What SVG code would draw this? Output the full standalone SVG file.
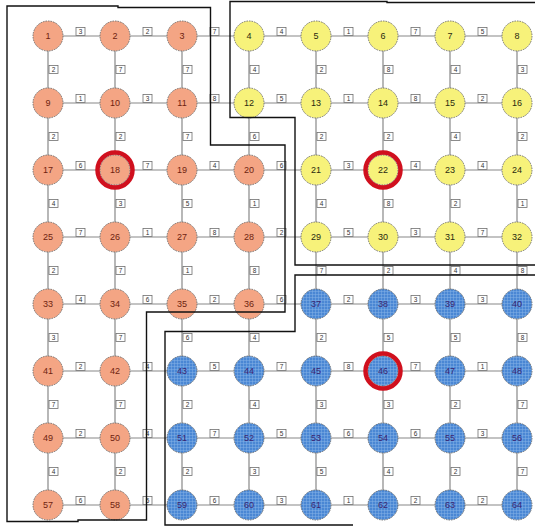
<svg xmlns="http://www.w3.org/2000/svg" width="535" height="527" viewBox="0 0 535 527">
<style>
.e{stroke:#888;stroke-width:1.2}
.b{fill:#fff;stroke:#6f6f6f;stroke-width:0.8}
.l{font-family:"Liberation Sans",Arial,sans-serif;font-size:6.5px;fill:#333;text-anchor:middle}
.n{stroke:#6a6a6a;stroke-width:0.9;stroke-dasharray:1.6 1}
.o{fill:#f4a584}
.y{fill:#f7f27a}
.u{fill:url(#grid)}
.t{font-family:"Liberation Sans",Arial,sans-serif;font-size:9px;text-anchor:middle;dominant-baseline:central}
.to{fill:#6e1f10}
.ty{fill:#2a2a10}
.tu{fill:#3a2470}
.sel{fill:none;stroke:#d0101e;stroke-width:4.5}
.r{fill:none;stroke:#111;stroke-width:1.4}
</style>
<defs>
<pattern id="grid" width="3" height="3" patternUnits="userSpaceOnUse">
<rect width="3" height="3" fill="#4a87d4"/>
<path d="M0 0.3H3M0.3 0V3" stroke="#86b3e6" stroke-width="0.6"/>
</pattern>
</defs>
<rect width="535" height="527" fill="#fff"/>
<g id="connectors">
<g id="edges">
<line class="e" x1="48" y1="36" x2="517" y2="36"/>
<line class="e" x1="48" y1="103" x2="517" y2="103"/>
<line class="e" x1="48" y1="170" x2="517" y2="170"/>
<line class="e" x1="48" y1="237" x2="517" y2="237"/>
<line class="e" x1="48" y1="304" x2="517" y2="304"/>
<line class="e" x1="48" y1="371" x2="517" y2="371"/>
<line class="e" x1="48" y1="438" x2="517" y2="438"/>
<line class="e" x1="48" y1="505" x2="517" y2="505"/>
<line class="e" x1="48" y1="36" x2="48" y2="505"/>
<line class="e" x1="115" y1="36" x2="115" y2="505"/>
<line class="e" x1="182" y1="36" x2="182" y2="505"/>
<line class="e" x1="249" y1="36" x2="249" y2="505"/>
<line class="e" x1="316" y1="36" x2="316" y2="505"/>
<line class="e" x1="383" y1="36" x2="383" y2="505"/>
<line class="e" x1="450" y1="36" x2="450" y2="505"/>
<line class="e" x1="517" y1="36" x2="517" y2="505"/>
</g>
<g id="edge-labels">
<g>
<rect class="b" x="76" y="27.5" width="9" height="8"/><text class="l" x="80.5" y="33.8">3</text>
<rect class="b" x="143" y="27.5" width="9" height="8"/><text class="l" x="147.5" y="33.8">2</text>
<rect class="b" x="210" y="27.5" width="9" height="8"/><text class="l" x="214.5" y="33.8">7</text>
<rect class="b" x="277" y="27.5" width="9" height="8"/><text class="l" x="281.5" y="33.8">4</text>
<rect class="b" x="344" y="27.5" width="9" height="8"/><text class="l" x="348.5" y="33.8">1</text>
<rect class="b" x="411" y="27.5" width="9" height="8"/><text class="l" x="415.5" y="33.8">7</text>
<rect class="b" x="478" y="27.5" width="9" height="8"/><text class="l" x="482.5" y="33.8">5</text>
</g>
<g>
<rect class="b" x="76" y="94.5" width="9" height="8"/><text class="l" x="80.5" y="100.8">1</text>
<rect class="b" x="143" y="94.5" width="9" height="8"/><text class="l" x="147.5" y="100.8">3</text>
<rect class="b" x="210" y="94.5" width="9" height="8"/><text class="l" x="214.5" y="100.8">8</text>
<rect class="b" x="277" y="94.5" width="9" height="8"/><text class="l" x="281.5" y="100.8">5</text>
<rect class="b" x="344" y="94.5" width="9" height="8"/><text class="l" x="348.5" y="100.8">1</text>
<rect class="b" x="411" y="94.5" width="9" height="8"/><text class="l" x="415.5" y="100.8">8</text>
<rect class="b" x="478" y="94.5" width="9" height="8"/><text class="l" x="482.5" y="100.8">2</text>
</g>
<g>
<rect class="b" x="76" y="161.5" width="9" height="8"/><text class="l" x="80.5" y="167.8">6</text>
<rect class="b" x="143" y="161.5" width="9" height="8"/><text class="l" x="147.5" y="167.8">7</text>
<rect class="b" x="210" y="161.5" width="9" height="8"/><text class="l" x="214.5" y="167.8">4</text>
<rect class="b" x="277" y="161.5" width="9" height="8"/><text class="l" x="281.5" y="167.8">6</text>
<rect class="b" x="344" y="161.5" width="9" height="8"/><text class="l" x="348.5" y="167.8">3</text>
<rect class="b" x="411" y="161.5" width="9" height="8"/><text class="l" x="415.5" y="167.8">4</text>
<rect class="b" x="478" y="161.5" width="9" height="8"/><text class="l" x="482.5" y="167.8">4</text>
</g>
<g>
<rect class="b" x="76" y="228.5" width="9" height="8"/><text class="l" x="80.5" y="234.8">7</text>
<rect class="b" x="143" y="228.5" width="9" height="8"/><text class="l" x="147.5" y="234.8">1</text>
<rect class="b" x="210" y="228.5" width="9" height="8"/><text class="l" x="214.5" y="234.8">8</text>
<rect class="b" x="277" y="228.5" width="9" height="8"/><text class="l" x="281.5" y="234.8">2</text>
<rect class="b" x="344" y="228.5" width="9" height="8"/><text class="l" x="348.5" y="234.8">5</text>
<rect class="b" x="411" y="228.5" width="9" height="8"/><text class="l" x="415.5" y="234.8">3</text>
<rect class="b" x="478" y="228.5" width="9" height="8"/><text class="l" x="482.5" y="234.8">7</text>
</g>
<g>
<rect class="b" x="76" y="295.5" width="9" height="8"/><text class="l" x="80.5" y="301.8">4</text>
<rect class="b" x="143" y="295.5" width="9" height="8"/><text class="l" x="147.5" y="301.8">6</text>
<rect class="b" x="210" y="295.5" width="9" height="8"/><text class="l" x="214.5" y="301.8">2</text>
<rect class="b" x="277" y="295.5" width="9" height="8"/><text class="l" x="281.5" y="301.8">6</text>
<rect class="b" x="344" y="295.5" width="9" height="8"/><text class="l" x="348.5" y="301.8">2</text>
<rect class="b" x="411" y="295.5" width="9" height="8"/><text class="l" x="415.5" y="301.8">3</text>
<rect class="b" x="478" y="295.5" width="9" height="8"/><text class="l" x="482.5" y="301.8">3</text>
</g>
<g>
<rect class="b" x="76" y="362.5" width="9" height="8"/><text class="l" x="80.5" y="368.8">2</text>
<rect class="b" x="143" y="362.5" width="9" height="8"/><text class="l" x="147.5" y="368.8">4</text>
<rect class="b" x="210" y="362.5" width="9" height="8"/><text class="l" x="214.5" y="368.8">5</text>
<rect class="b" x="277" y="362.5" width="9" height="8"/><text class="l" x="281.5" y="368.8">7</text>
<rect class="b" x="344" y="362.5" width="9" height="8"/><text class="l" x="348.5" y="368.8">8</text>
<rect class="b" x="411" y="362.5" width="9" height="8"/><text class="l" x="415.5" y="368.8">7</text>
<rect class="b" x="478" y="362.5" width="9" height="8"/><text class="l" x="482.5" y="368.8">1</text>
</g>
<g>
<rect class="b" x="76" y="429.5" width="9" height="8"/><text class="l" x="80.5" y="435.8">2</text>
<rect class="b" x="143" y="429.5" width="9" height="8"/><text class="l" x="147.5" y="435.8">4</text>
<rect class="b" x="210" y="429.5" width="9" height="8"/><text class="l" x="214.5" y="435.8">7</text>
<rect class="b" x="277" y="429.5" width="9" height="8"/><text class="l" x="281.5" y="435.8">5</text>
<rect class="b" x="344" y="429.5" width="9" height="8"/><text class="l" x="348.5" y="435.8">6</text>
<rect class="b" x="411" y="429.5" width="9" height="8"/><text class="l" x="415.5" y="435.8">6</text>
<rect class="b" x="478" y="429.5" width="9" height="8"/><text class="l" x="482.5" y="435.8">3</text>
</g>
<g>
<rect class="b" x="76" y="496.5" width="9" height="8"/><text class="l" x="80.5" y="502.8">6</text>
<rect class="b" x="143" y="496.5" width="9" height="8"/><text class="l" x="147.5" y="502.8">5</text>
<rect class="b" x="210" y="496.5" width="9" height="8"/><text class="l" x="214.5" y="502.8">6</text>
<rect class="b" x="277" y="496.5" width="9" height="8"/><text class="l" x="281.5" y="502.8">3</text>
<rect class="b" x="344" y="496.5" width="9" height="8"/><text class="l" x="348.5" y="502.8">1</text>
<rect class="b" x="411" y="496.5" width="9" height="8"/><text class="l" x="415.5" y="502.8">2</text>
<rect class="b" x="478" y="496.5" width="9" height="8"/><text class="l" x="482.5" y="502.8">2</text>
</g>
<g>
<rect class="b" x="49" y="65.5" width="9" height="8"/><text class="l" x="53.5" y="71.8">2</text>
<rect class="b" x="116" y="65.5" width="9" height="8"/><text class="l" x="120.5" y="71.8">7</text>
<rect class="b" x="183" y="65.5" width="9" height="8"/><text class="l" x="187.5" y="71.8">7</text>
<rect class="b" x="250" y="65.5" width="9" height="8"/><text class="l" x="254.5" y="71.8">4</text>
<rect class="b" x="317" y="65.5" width="9" height="8"/><text class="l" x="321.5" y="71.8">2</text>
<rect class="b" x="384" y="65.5" width="9" height="8"/><text class="l" x="388.5" y="71.8">8</text>
<rect class="b" x="451" y="65.5" width="9" height="8"/><text class="l" x="455.5" y="71.8">4</text>
<rect class="b" x="518" y="65.5" width="9" height="8"/><text class="l" x="522.5" y="71.8">3</text>
</g>
<g>
<rect class="b" x="49" y="132.5" width="9" height="8"/><text class="l" x="53.5" y="138.8">2</text>
<rect class="b" x="116" y="132.5" width="9" height="8"/><text class="l" x="120.5" y="138.8">2</text>
<rect class="b" x="183" y="132.5" width="9" height="8"/><text class="l" x="187.5" y="138.8">7</text>
<rect class="b" x="250" y="132.5" width="9" height="8"/><text class="l" x="254.5" y="138.8">6</text>
<rect class="b" x="317" y="132.5" width="9" height="8"/><text class="l" x="321.5" y="138.8">2</text>
<rect class="b" x="384" y="132.5" width="9" height="8"/><text class="l" x="388.5" y="138.8">2</text>
<rect class="b" x="451" y="132.5" width="9" height="8"/><text class="l" x="455.5" y="138.8">4</text>
<rect class="b" x="518" y="132.5" width="9" height="8"/><text class="l" x="522.5" y="138.8">2</text>
</g>
<g>
<rect class="b" x="49" y="199.5" width="9" height="8"/><text class="l" x="53.5" y="205.8">4</text>
<rect class="b" x="116" y="199.5" width="9" height="8"/><text class="l" x="120.5" y="205.8">3</text>
<rect class="b" x="183" y="199.5" width="9" height="8"/><text class="l" x="187.5" y="205.8">5</text>
<rect class="b" x="250" y="199.5" width="9" height="8"/><text class="l" x="254.5" y="205.8">1</text>
<rect class="b" x="317" y="199.5" width="9" height="8"/><text class="l" x="321.5" y="205.8">4</text>
<rect class="b" x="384" y="199.5" width="9" height="8"/><text class="l" x="388.5" y="205.8">8</text>
<rect class="b" x="451" y="199.5" width="9" height="8"/><text class="l" x="455.5" y="205.8">2</text>
<rect class="b" x="518" y="199.5" width="9" height="8"/><text class="l" x="522.5" y="205.8">1</text>
</g>
<g>
<rect class="b" x="49" y="266.5" width="9" height="8"/><text class="l" x="53.5" y="272.8">2</text>
<rect class="b" x="116" y="266.5" width="9" height="8"/><text class="l" x="120.5" y="272.8">7</text>
<rect class="b" x="183" y="266.5" width="9" height="8"/><text class="l" x="187.5" y="272.8">1</text>
<rect class="b" x="250" y="266.5" width="9" height="8"/><text class="l" x="254.5" y="272.8">8</text>
<rect class="b" x="317" y="266.5" width="9" height="8"/><text class="l" x="321.5" y="272.8">7</text>
<rect class="b" x="384" y="266.5" width="9" height="8"/><text class="l" x="388.5" y="272.8">2</text>
<rect class="b" x="451" y="266.5" width="9" height="8"/><text class="l" x="455.5" y="272.8">4</text>
<rect class="b" x="518" y="266.5" width="9" height="8"/><text class="l" x="522.5" y="272.8">8</text>
</g>
<g>
<rect class="b" x="49" y="333.5" width="9" height="8"/><text class="l" x="53.5" y="339.8">3</text>
<rect class="b" x="116" y="333.5" width="9" height="8"/><text class="l" x="120.5" y="339.8">7</text>
<rect class="b" x="183" y="333.5" width="9" height="8"/><text class="l" x="187.5" y="339.8">6</text>
<rect class="b" x="250" y="333.5" width="9" height="8"/><text class="l" x="254.5" y="339.8">4</text>
<rect class="b" x="317" y="333.5" width="9" height="8"/><text class="l" x="321.5" y="339.8">2</text>
<rect class="b" x="384" y="333.5" width="9" height="8"/><text class="l" x="388.5" y="339.8">5</text>
<rect class="b" x="451" y="333.5" width="9" height="8"/><text class="l" x="455.5" y="339.8">5</text>
<rect class="b" x="518" y="333.5" width="9" height="8"/><text class="l" x="522.5" y="339.8">8</text>
</g>
<g>
<rect class="b" x="49" y="400.5" width="9" height="8"/><text class="l" x="53.5" y="406.8">7</text>
<rect class="b" x="116" y="400.5" width="9" height="8"/><text class="l" x="120.5" y="406.8">7</text>
<rect class="b" x="183" y="400.5" width="9" height="8"/><text class="l" x="187.5" y="406.8">2</text>
<rect class="b" x="250" y="400.5" width="9" height="8"/><text class="l" x="254.5" y="406.8">4</text>
<rect class="b" x="317" y="400.5" width="9" height="8"/><text class="l" x="321.5" y="406.8">3</text>
<rect class="b" x="384" y="400.5" width="9" height="8"/><text class="l" x="388.5" y="406.8">3</text>
<rect class="b" x="451" y="400.5" width="9" height="8"/><text class="l" x="455.5" y="406.8">2</text>
<rect class="b" x="518" y="400.5" width="9" height="8"/><text class="l" x="522.5" y="406.8">7</text>
</g>
<g>
<rect class="b" x="49" y="467.5" width="9" height="8"/><text class="l" x="53.5" y="473.8">4</text>
<rect class="b" x="116" y="467.5" width="9" height="8"/><text class="l" x="120.5" y="473.8">2</text>
<rect class="b" x="183" y="467.5" width="9" height="8"/><text class="l" x="187.5" y="473.8">2</text>
<rect class="b" x="250" y="467.5" width="9" height="8"/><text class="l" x="254.5" y="473.8">3</text>
<rect class="b" x="317" y="467.5" width="9" height="8"/><text class="l" x="321.5" y="473.8">5</text>
<rect class="b" x="384" y="467.5" width="9" height="8"/><text class="l" x="388.5" y="473.8">4</text>
<rect class="b" x="451" y="467.5" width="9" height="8"/><text class="l" x="455.5" y="473.8">2</text>
<rect class="b" x="518" y="467.5" width="9" height="8"/><text class="l" x="522.5" y="473.8">7</text>
</g>
</g>
</g>
<g id="nodes">
<g id="n1"><circle class="n o" cx="48" cy="36" r="15"/><text class="t to" x="48" y="36">1</text></g>
<g id="n2"><circle class="n o" cx="115" cy="36" r="15"/><text class="t to" x="115" y="36">2</text></g>
<g id="n3"><circle class="n o" cx="182" cy="36" r="15"/><text class="t to" x="182" y="36">3</text></g>
<g id="n4"><circle class="n y" cx="249" cy="36" r="15"/><text class="t ty" x="249" y="36">4</text></g>
<g id="n5"><circle class="n y" cx="316" cy="36" r="15"/><text class="t ty" x="316" y="36">5</text></g>
<g id="n6"><circle class="n y" cx="383" cy="36" r="15"/><text class="t ty" x="383" y="36">6</text></g>
<g id="n7"><circle class="n y" cx="450" cy="36" r="15"/><text class="t ty" x="450" y="36">7</text></g>
<g id="n8"><circle class="n y" cx="517" cy="36" r="15"/><text class="t ty" x="517" y="36">8</text></g>
<g id="n9"><circle class="n o" cx="48" cy="103" r="15"/><text class="t to" x="48" y="103">9</text></g>
<g id="n10"><circle class="n o" cx="115" cy="103" r="15"/><text class="t to" x="115" y="103">10</text></g>
<g id="n11"><circle class="n o" cx="182" cy="103" r="15"/><text class="t to" x="182" y="103">11</text></g>
<g id="n12"><circle class="n y" cx="249" cy="103" r="15"/><text class="t ty" x="249" y="103">12</text></g>
<g id="n13"><circle class="n y" cx="316" cy="103" r="15"/><text class="t ty" x="316" y="103">13</text></g>
<g id="n14"><circle class="n y" cx="383" cy="103" r="15"/><text class="t ty" x="383" y="103">14</text></g>
<g id="n15"><circle class="n y" cx="450" cy="103" r="15"/><text class="t ty" x="450" y="103">15</text></g>
<g id="n16"><circle class="n y" cx="517" cy="103" r="15"/><text class="t ty" x="517" y="103">16</text></g>
<g id="n17"><circle class="n o" cx="48" cy="170" r="15"/><text class="t to" x="48" y="170">17</text></g>
<g id="n18"><circle class="n o" cx="115" cy="170" r="15"/><circle class="sel" cx="115" cy="170" r="17.5"/><text class="t to" x="115" y="170">18</text></g>
<g id="n19"><circle class="n o" cx="182" cy="170" r="15"/><text class="t to" x="182" y="170">19</text></g>
<g id="n20"><circle class="n o" cx="249" cy="170" r="15"/><text class="t to" x="249" y="170">20</text></g>
<g id="n21"><circle class="n y" cx="316" cy="170" r="15"/><text class="t ty" x="316" y="170">21</text></g>
<g id="n22"><circle class="n y" cx="383" cy="170" r="15"/><circle class="sel" cx="383" cy="170" r="17.5"/><text class="t ty" x="383" y="170">22</text></g>
<g id="n23"><circle class="n y" cx="450" cy="170" r="15"/><text class="t ty" x="450" y="170">23</text></g>
<g id="n24"><circle class="n y" cx="517" cy="170" r="15"/><text class="t ty" x="517" y="170">24</text></g>
<g id="n25"><circle class="n o" cx="48" cy="237" r="15"/><text class="t to" x="48" y="237">25</text></g>
<g id="n26"><circle class="n o" cx="115" cy="237" r="15"/><text class="t to" x="115" y="237">26</text></g>
<g id="n27"><circle class="n o" cx="182" cy="237" r="15"/><text class="t to" x="182" y="237">27</text></g>
<g id="n28"><circle class="n o" cx="249" cy="237" r="15"/><text class="t to" x="249" y="237">28</text></g>
<g id="n29"><circle class="n y" cx="316" cy="237" r="15"/><text class="t ty" x="316" y="237">29</text></g>
<g id="n30"><circle class="n y" cx="383" cy="237" r="15"/><text class="t ty" x="383" y="237">30</text></g>
<g id="n31"><circle class="n y" cx="450" cy="237" r="15"/><text class="t ty" x="450" y="237">31</text></g>
<g id="n32"><circle class="n y" cx="517" cy="237" r="15"/><text class="t ty" x="517" y="237">32</text></g>
<g id="n33"><circle class="n o" cx="48" cy="304" r="15"/><text class="t to" x="48" y="304">33</text></g>
<g id="n34"><circle class="n o" cx="115" cy="304" r="15"/><text class="t to" x="115" y="304">34</text></g>
<g id="n35"><circle class="n o" cx="182" cy="304" r="15"/><text class="t to" x="182" y="304">35</text></g>
<g id="n36"><circle class="n o" cx="249" cy="304" r="15"/><text class="t to" x="249" y="304">36</text></g>
<g id="n37"><circle class="n u" cx="316" cy="304" r="15"/><text class="t tu" x="316" y="304">37</text></g>
<g id="n38"><circle class="n u" cx="383" cy="304" r="15"/><text class="t tu" x="383" y="304">38</text></g>
<g id="n39"><circle class="n u" cx="450" cy="304" r="15"/><text class="t tu" x="450" y="304">39</text></g>
<g id="n40"><circle class="n u" cx="517" cy="304" r="15"/><text class="t tu" x="517" y="304">40</text></g>
<g id="n41"><circle class="n o" cx="48" cy="371" r="15"/><text class="t to" x="48" y="371">41</text></g>
<g id="n42"><circle class="n o" cx="115" cy="371" r="15"/><text class="t to" x="115" y="371">42</text></g>
<g id="n43"><circle class="n u" cx="182" cy="371" r="15"/><text class="t tu" x="182" y="371">43</text></g>
<g id="n44"><circle class="n u" cx="249" cy="371" r="15"/><text class="t tu" x="249" y="371">44</text></g>
<g id="n45"><circle class="n u" cx="316" cy="371" r="15"/><text class="t tu" x="316" y="371">45</text></g>
<g id="n46"><circle class="n u" cx="383" cy="371" r="15"/><circle class="sel" cx="383" cy="371" r="17.5"/><text class="t tu" x="383" y="371">46</text></g>
<g id="n47"><circle class="n u" cx="450" cy="371" r="15"/><text class="t tu" x="450" y="371">47</text></g>
<g id="n48"><circle class="n u" cx="517" cy="371" r="15"/><text class="t tu" x="517" y="371">48</text></g>
<g id="n49"><circle class="n o" cx="48" cy="438" r="15"/><text class="t to" x="48" y="438">49</text></g>
<g id="n50"><circle class="n o" cx="115" cy="438" r="15"/><text class="t to" x="115" y="438">50</text></g>
<g id="n51"><circle class="n u" cx="182" cy="438" r="15"/><text class="t tu" x="182" y="438">51</text></g>
<g id="n52"><circle class="n u" cx="249" cy="438" r="15"/><text class="t tu" x="249" y="438">52</text></g>
<g id="n53"><circle class="n u" cx="316" cy="438" r="15"/><text class="t tu" x="316" y="438">53</text></g>
<g id="n54"><circle class="n u" cx="383" cy="438" r="15"/><text class="t tu" x="383" y="438">54</text></g>
<g id="n55"><circle class="n u" cx="450" cy="438" r="15"/><text class="t tu" x="450" y="438">55</text></g>
<g id="n56"><circle class="n u" cx="517" cy="438" r="15"/><text class="t tu" x="517" y="438">56</text></g>
<g id="n57"><circle class="n o" cx="48" cy="505" r="15"/><text class="t to" x="48" y="505">57</text></g>
<g id="n58"><circle class="n o" cx="115" cy="505" r="15"/><text class="t to" x="115" y="505">58</text></g>
<g id="n59"><circle class="n u" cx="182" cy="505" r="15"/><text class="t tu" x="182" y="505">59</text></g>
<g id="n60"><circle class="n u" cx="249" cy="505" r="15"/><text class="t tu" x="249" y="505">60</text></g>
<g id="n61"><circle class="n u" cx="316" cy="505" r="15"/><text class="t tu" x="316" y="505">61</text></g>
<g id="n62"><circle class="n u" cx="383" cy="505" r="15"/><text class="t tu" x="383" y="505">62</text></g>
<g id="n63"><circle class="n u" cx="450" cy="505" r="15"/><text class="t tu" x="450" y="505">63</text></g>
<g id="n64"><circle class="n u" cx="517" cy="505" r="15"/><text class="t tu" x="517" y="505">64</text></g>
</g>
<g id="regions">
<path class="r" d="M7 6H118V7.5H210.5V145H285V312H146.5V520H78V521.5H7Z"/>
<path class="r" d="M535 2.5H387V1.5H230V117.5H295V265H535"/>
<path class="r" d="M535 275H295V331.5H165V525H353"/>
</g>
</svg>
